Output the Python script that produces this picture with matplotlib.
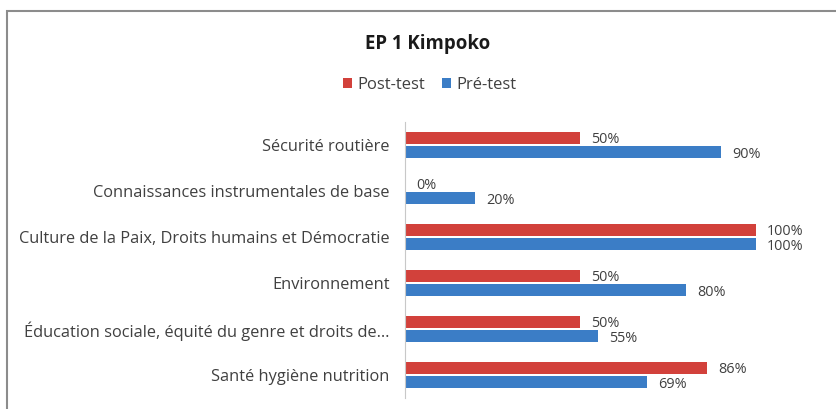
import numpy as np
import matplotlib.pyplot as plt
from matplotlib.patches import Rectangle

plt.rcParams['font.family'] = ['Open Sans', 'DejaVu Sans']

# données (de haut en bas)
categories = [
    "Sécurité routière",
    "Connaissances instrumentales de base",
    "Culture de la Paix, Droits humains et Démocratie",
    "Environnement",
    "Éducation sociale, équité du genre et droits de…",
    "Santé hygiène nutrition",
]
post_test = [0.50, 0.00, 1.00, 0.50, 0.50, 0.86]
pre_test = [0.90, 0.20, 1.00, 0.80, 0.55, 0.69]

rouge = '#D2413B'
bleu = '#3B7DC6'
gris_texte = '#404040'

fig = plt.figure(figsize=(8.36, 4.09), dpi=100)
ax = fig.add_axes([405 / 836, 11 / 409, 421 / 836, 276 / 409])

y = np.arange(len(categories))
h = 0.25
b1 = ax.barh(y - 0.155, post_test, height=h, color=rouge, label='Post-test')
b2 = ax.barh(y + 0.155, pre_test, height=h, color=bleu, label='Pré-test')

for barres, vals, dy in ((b1, post_test, -1), (b2, pre_test, -2)):
    for barre, v in zip(barres, vals):
        ax.annotate(f"{v:.0%}", (barre.get_width(), barre.get_y() + barre.get_height() / 2),
                    xytext=(8, dy), textcoords='offset points', va='center', ha='left',
                    fontsize=10.4, color=gris_texte)

ax.set_xlim(0, 1.2)
ax.set_ylim(len(categories) - 0.5, -0.5)
ax.set_yticks(y)
ax.set_yticklabels(categories, fontsize=11.8, color=gris_texte)
ax.tick_params(axis='y', length=0, pad=11)
ax.set_xticks([])
for s in ('top', 'right', 'bottom'):
    ax.spines[s].set_visible(False)
ax.spines['left'].set_color('#c8c8c8')

fig.text(0.511, 0.893, "EP 1 Kimpoko", ha='center', va='center',
         fontsize=13.4, fontweight='bold', color='#1a1a1a')
fig.legend(handles=[b1, b2], loc='center', bbox_to_anchor=(0.514, 0.792), ncol=2,
           frameon=False, fontsize=11.9, handlelength=0.55, handleheight=0.55,
           columnspacing=1.0, handletextpad=0.35, labelcolor=gris_texte)

fig.patches.append(Rectangle((7 / 836, -0.05), 1.1, 1 - 11 / 409 + 0.05,
                             transform=fig.transFigure, fill=False,
                             edgecolor='#8c8c8c', linewidth=1.5))

fig.savefig('out.png', dpi=100)
